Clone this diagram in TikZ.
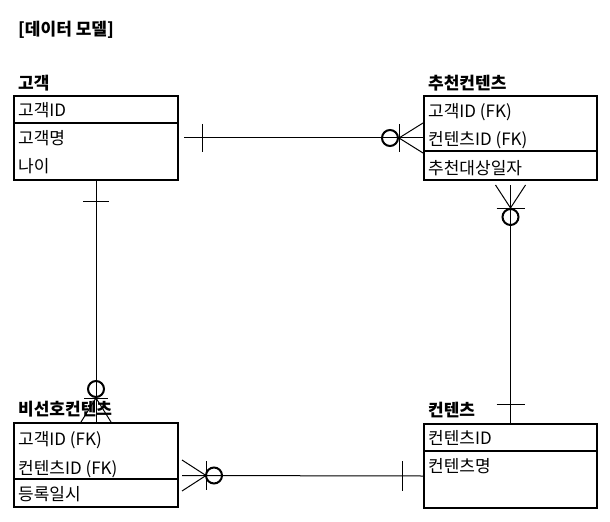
\documentclass[tikz,border=0pt]{standalone}
\usepackage{fontspec}
\setmainfont{Noto Sans CJK KR}
\usetikzlibrary{calc}
\usetikzlibrary{positioning}
\tikzstyle{entity} = [rectangle, draw=black, line width=2bp, minimum height=84bp, anchor=north west, inner sep=0pt]
\tikzstyle{attr} = [anchor=west, inner sep=0pt, yshift=-3.5bp, text height=0.8em, text depth=0.05em, font=\fontsize{17bp}{20bp}\selectfont]
\tikzstyle{etitle} = [attr, font=\fontsize{17bp}{20bp}\selectfont\bfseries]
\tikzstyle{rel} = [line width=1bp]
\tikzstyle{zero} = [line width=2bp]

\begin{document}
\begin{tikzpicture}[x=1bp, y=-1bp]
	\useasboundingbox (0,0) rectangle (610,522);
	\node (model) [etitle] at (18,28) {[데이터 모델]};
	% entities
	\node (cust) [entity, minimum width=164bp] at (13,95) {};
	\node (recom) [entity, minimum width=173bp] at (423,95) {};
	\node (dislike) [entity, minimum width=164bp] at (13,422) {};
	\node (content) [entity, minimum width=173bp] at (423,423) {};
	\node (cust-t) [etitle] at ($(cust.north west)+(5,-13)$) {고객};
	\node (recom-t) [etitle] at ($(recom.north west)+(5,-13)$) {추천컨텐츠};
	\node (dislike-t) [etitle] at ($(dislike.north west)+(5,-14)$) {비선호컨텐츠};
	\node (content-t) [etitle] at ($(content.north west)+(5,-14)$) {컨텐츠};
	\draw [line width=2bp] ($(cust.north west)+(0,28)$) -- ($(cust.north east)+(0,28)$);
	\draw [line width=2bp] ($(recom.north west)+(0,56)$) -- ($(recom.north east)+(0,56)$);
	\draw [line width=2bp] ($(dislike.north west)+(0,57)$) -- ($(dislike.north east)+(0,57)$);
	\draw [line width=2bp] ($(content.north west)+(0,28)$) -- ($(content.north east)+(0,28)$);
	% attributes
	\node (cust-1) [attr] at ($(cust.north west)+(5,14)$) {고객ID};
	\node (cust-2) [attr] at ($(cust.north west)+(5,42)$) {고객명};
	\node (cust-3) [attr] at ($(cust.north west)+(5,70)$) {나이};
	\node (recom-1) [attr] at ($(recom.north west)+(5,15)$) {고객ID (FK)};
	\node (recom-2) [attr] at ($(recom.north west)+(5,43)$) {컨텐츠ID (FK)};
	\node (recom-3) [attr] at ($(recom.north west)+(5,72)$) {추천대상일자};
	\node (dislike-1) [attr] at ($(dislike.north west)+(5,16)$) {고객ID (FK)};
	\node (dislike-2) [attr] at ($(dislike.north west)+(5,45)$) {컨텐츠ID (FK)};
	\node (dislike-3) [attr] at ($(dislike.north west)+(5,71)$) {등록일시};
	\node (content-1) [attr] at ($(content.north west)+(5,14)$) {컨텐츠ID};
	\node (content-2) [attr] at ($(content.north west)+(5,42)$) {컨텐츠명};
	%lines
	% cust - recom
	\draw [rel] ($(cust.east)+(5,0)$) -- (recom.west);
	\draw [rel] ($(cust.east)+(23,-14)$) -- ($(cust.east)+(23,14)$);
	\draw [zero] ($(recom.west)+(-33,0)$) circle [radius=8bp];
	\draw [rel] ($(recom.west)+(-24,-14)$) -- ($(recom.west)+(-24,14)$);
	\draw [rel] ($(recom.west)+(0,-15)$) -- ($(recom.west)+(-24,0)$) -- ($(recom.west)+(0,15)$);
	% cust - dislike
	\draw [rel] (cust.south) -- (dislike.north);
	\draw [rel] ($(cust.south)+(-13,20)$) -- ($(cust.south)+(13,20)$);
	\draw [zero] ($(dislike.north)+(0,-33)$) circle [radius=8bp];
	\draw [rel] ($(dislike.north)+(-12,-24)$) -- ($(dislike.north)+(12,-24)$);
	\draw [rel] ($(dislike.north)+(-15,0)$) -- ($(dislike.north)+(0,-24)$) -- ($(dislike.north)+(15,0)$);
	% recom - content
	\draw [rel] ($(recom.south)+(0,4)$) -- (content.north);
	\draw [rel] ($(recom.south)+(-15,4)$) -- ($(recom.south)+(0,27)$) -- ($(recom.south)+(15,4)$);
	\draw [rel] ($(recom.south)+(-14,27)$) -- ($(recom.south)+(14,27)$);
	\draw [zero] ($(recom.south)+(0,36)$) circle [radius=8bp];
	\draw [rel] ($(content.north)+(-14,-19)$) -- ($(content.north)+(14,-19)$);
	% dislike - content
	\draw [rel] ($(dislike.east)+(3,10.5)$) -- ($(content.west)+(0,10)$);
	\draw [rel] ($(dislike.east)+(3,-5)$) -- ($(dislike.east)+(27,10.5)$) -- ($(dislike.east)+(3,26)$);
	\draw [rel] ($(dislike.east)+(27,-4)$) -- ($(dislike.east)+(27,25)$);
	\draw [zero] ($(dislike.east)+(35,10.5)$) circle [radius=8bp];
	\draw [rel] ($(content.west)+(-21,-5)$) -- ($(content.west)+(-21,25)$);
\end{tikzpicture}
\end{document}
